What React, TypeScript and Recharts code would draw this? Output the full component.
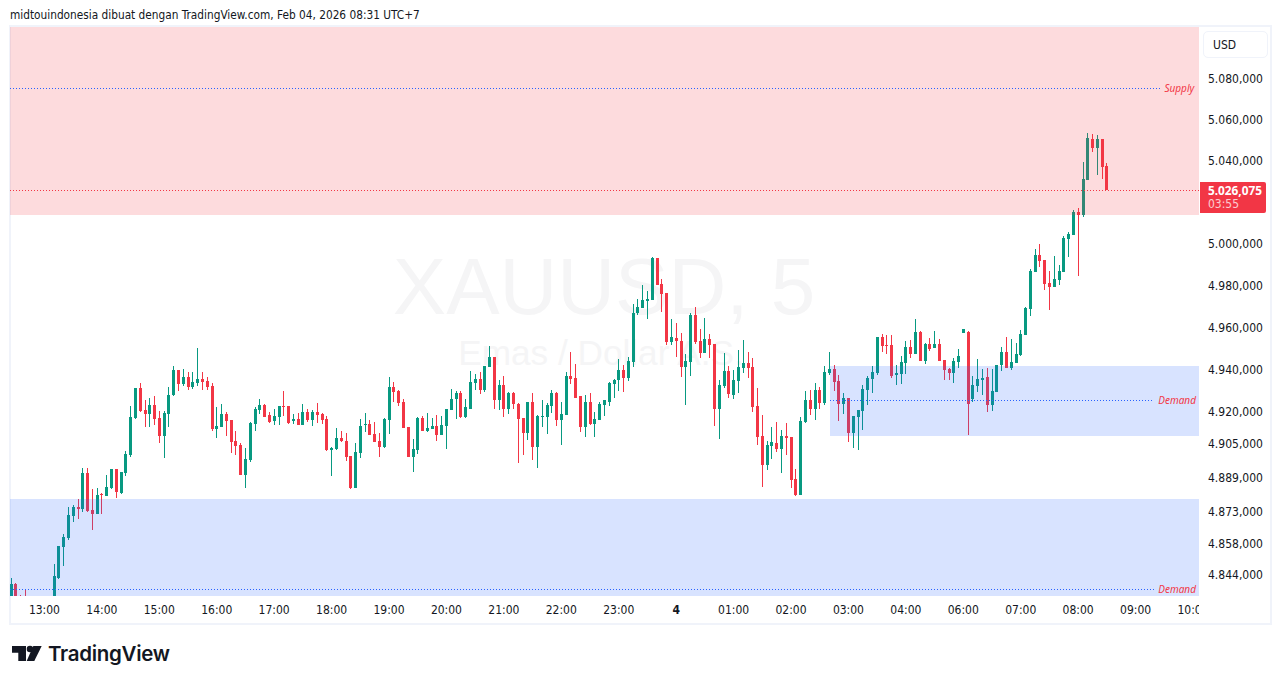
import { Bar, Cell, ComposedChart, ReferenceArea, ReferenceLine, XAxis, YAxis } from "recharts";

const opens = [
  4831, 4839.5, 4833, 4832, 4827, 4829, 4827, 4830, 4831, 4832,
  4842.2, 4856.6, 4860.8, 4871, 4875.2, 4874.3, 4891.1, 4873.8, 4872, 4881.3,
  4880.4, 4884.1, 4893, 4881.8, 4891.1, 4899.6, 4917, 4931.2, 4920.8, 4918.9,
  4923.2, 4917, 4908.6, 4918.9, 4927.9, 4939.8, 4933.1, 4936.4, 4931.7, 4933.6,
  4935.5, 4934.6, 4932.2, 4911.9, 4912.8, 4918.9, 4916.1, 4906.2, 4904.3, 4890.6,
  4897.2, 4914.2, 4920.8, 4923.2, 4918.4, 4915.6, 4917.5, 4922.7, 4922.7, 4915.6,
  4916.6, 4913.7, 4919.9, 4916.1, 4919.9, 4918.9, 4916.6, 4902, 4902.5, 4907.7,
  4906.2, 4899.1, 4884.1, 4900.6, 4913.7, 4914.2, 4909.5, 4906.2, 4903.4, 4916.1,
  4931.7, 4929.8, 4924.6, 4912.8, 4898.7, 4902, 4917, 4910.9, 4911.9, 4913.3,
  4909.1, 4913.3, 4920.8, 4926, 4928.9, 4917.5, 4921.7, 4933.6, 4935.5, 4930.3,
  4941.2, 4945.9, 4925.5, 4932.6, 4921.7, 4928.9, 4923.6, 4917, 4910, 4925,
  4903.4, 4917.5, 4917.5, 4922.7, 4928.9, 4916.1, 4918.4, 4936.9, 4936, 4927.4,
  4912.8, 4925, 4914.2, 4916.1, 4923.2, 4925, 4933.1, 4935, 4939.8, 4936,
  4943.5, 4966.9, 4969.3, 4972.6, 4973.1, 4993.3, 4980.8, 4976.4, 4953, 4955,
  4953.5, 4941.2, 4943.5, 4965.9, 4953.5, 4947.8, 4954.5, 4952.1, 4921.7, 4932.2,
  4939.3, 4927.9, 4934.6, 4940.7, 4943.1, 4941.2, 4922.7, 4908.6, 4894.9, 4903.9,
  4905.3, 4902.5, 4908.6, 4908.1, 4888.3, 4880.8, 4915.1, 4925.5, 4921.7, 4930.3,
  4924.1, 4938.3, 4940.2, 4934.6, 4923.6, 4926.9, 4910, 4917.5, 4920.3, 4930.3,
  4935.5, 4938.3, 4955.4, 4951.6, 4951.6, 4937.4, 4937.9, 4943.1, 4950.7, 4947.4,
  4957.8, 4944, 4952.1, 4950.2, 4952.1, 4944.5, 4940.2, 4938.3, 4943.5, 4957.4,
  4957.8, 4926, 4932.2, 4935, 4936.4, 4923.2, 4929.3, 4942.1, 4948.3, 4940.7,
  4943.1, 4946.9, 4956.4, 4968.8, 4986.5, 4994.7, 4992.3, 4981.3, 4979.3, 4982.7,
  4986.5, 5002.4, 5004.3, 5015.3, 5013.9, 5030.8, 5050.7, 5046.3, 5050.7, 5037.6,
];

const highs = [
  4842.2, 4839.9, 4834.4, 4836.7, 4830, 4831, 4832, 4832.5, 4833, 4848.7,
  4857, 4862.6, 4875.2, 4876.1, 4879, 4893.5, 4893.5, 4883.7, 4884.1, 4881.8,
  4890.2, 4893, 4893, 4891.6, 4901.5, 4922.7, 4931.2, 4933.6, 4925.5, 4926.9,
  4927.4, 4920.3, 4920.3, 4931.7, 4941.7, 4939.8, 4940.2, 4938.8, 4938.8, 4950.2,
  4938.8, 4936.4, 4933.6, 4922.2, 4923.6, 4919.9, 4916.1, 4910.9, 4905.3, 4902.9,
  4915.1, 4922.2, 4926, 4923.6, 4919.9, 4921.3, 4922.7, 4929.8, 4922.7, 4918.9,
  4919.4, 4923.6, 4921.3, 4920.8, 4924.1, 4919.4, 4918, 4903.4, 4912.3, 4910.9,
  4910, 4899.1, 4905.3, 4916.6, 4919.4, 4916.1, 4915.1, 4910, 4917, 4936.4,
  4934.1, 4930.3, 4926, 4912.8, 4907.2, 4917.5, 4918, 4919.4, 4917, 4918.4,
  4918, 4921.3, 4930.8, 4929.8, 4929.8, 4926.4, 4939.3, 4937.9, 4938.8, 4941.7,
  4951.2, 4945.9, 4935, 4936.9, 4929.3, 4929.3, 4924.1, 4917, 4925, 4928.9,
  4918.4, 4925.5, 4924.1, 4930.3, 4929.3, 4924.6, 4938.8, 4948.3, 4942.6, 4927.4,
  4927.9, 4928.9, 4919.9, 4924.6, 4925.5, 4934.1, 4935.5, 4945, 4942.1, 4945.9,
  4971.2, 4973.6, 4980.3, 4977.4, 4993.7, 4993.3, 4983.2, 4976.4, 4964, 4962.1,
  4957.4, 4947.4, 4966.9, 4969.7, 4959.3, 4964.5, 4956.9, 4952.1, 4935, 4947.8,
  4941.7, 4939.8, 4949.3, 4954, 4948.3, 4945.4, 4931.2, 4918.4, 4906.2, 4912.8,
  4915.1, 4911.4, 4914.7, 4908.1, 4893, 4917.5, 4929.8, 4930.3, 4933.6, 4931.7,
  4941.7, 4948.3, 4942.1, 4937.4, 4928.9, 4926.9, 4918, 4920.8, 4932.6, 4936.9,
  4941.7, 4955.4, 4956.9, 4956.4, 4956.4, 4942.1, 4946.4, 4953.5, 4954, 4964,
  4958.3, 4952.6, 4955, 4958.3, 4954.5, 4944.5, 4940.7, 4945.4, 4949.8, 4959.3,
  4958.3, 4936.9, 4945, 4940.2, 4940.7, 4940.2, 4942.1, 4950.7, 4955.4, 4954.5,
  4952.6, 4958.8, 4969.7, 4988, 4997.6, 5000, 4992.3, 4987, 4994.2, 4989.8,
  5003.8, 5005.7, 5016.3, 5017.3, 5039.5, 5053.6, 5053.1, 5052.6, 5050.7, 5039,
];

const lows = [
  4829.5, 4828, 4827, 4826, 4825, 4826, 4826, 4828, 4829, 4830,
  4841.8, 4847.8, 4859.8, 4868.2, 4869.6, 4872.9, 4872.9, 4864.5, 4872, 4872,
  4880.4, 4883.7, 4879.4, 4881.3, 4889.7, 4898.7, 4916.6, 4919.9, 4912.8, 4912.8,
  4913.7, 4905.3, 4898.2, 4912.8, 4927.4, 4929.8, 4932.2, 4930.3, 4930.8, 4932.2,
  4930.3, 4930.3, 4910.9, 4907.7, 4912.8, 4908.6, 4900.6, 4899.6, 4890.2, 4884.1,
  4896.3, 4910.9, 4918.9, 4917.5, 4914.7, 4913.7, 4913.7, 4918, 4914.2, 4914.2,
  4913.7, 4913.7, 4915.1, 4913.3, 4914.7, 4914.2, 4901.5, 4889.7, 4902, 4905.8,
  4896.8, 4883.7, 4884.1, 4898.2, 4910.5, 4909.1, 4905.8, 4898.7, 4902.9, 4909.5,
  4925, 4922.7, 4912.3, 4898.7, 4892, 4900.1, 4910.9, 4910.5, 4911.9, 4906.2,
  4909.1, 4902.5, 4920.8, 4916.6, 4917, 4917, 4921.7, 4930.3, 4928.4, 4929.3,
  4941.2, 4921.3, 4920.8, 4917.5, 4918.9, 4921.3, 4895.8, 4899.6, 4906.7, 4897.2,
  4893.5, 4912.8, 4909.5, 4919.4, 4913.3, 4904.3, 4918.4, 4933.1, 4926.9, 4910.5,
  4908.1, 4913.7, 4908.1, 4916.1, 4918, 4922.7, 4926.9, 4929.8, 4929.3, 4934.6,
  4941.2, 4965.9, 4969.3, 4964, 4973.1, 4980.3, 4967.4, 4951.6, 4951.6, 4945.9,
  4936.4, 4923.2, 4936.9, 4952.1, 4945.4, 4947.8, 4945.4, 4913.3, 4907.2, 4931.2,
  4926.9, 4926, 4928.9, 4938.3, 4936, 4919.9, 4904.3, 4884.6, 4892.5, 4897.7,
  4901.1, 4891.1, 4899.6, 4884.1, 4880.4, 4880.8, 4914.7, 4918.4, 4916.1, 4921.7,
  4923.2, 4937.4, 4929.8, 4915.6, 4918.9, 4905.8, 4902.9, 4902, 4911.4, 4923.2,
  4928.9, 4937.4, 4948.3, 4947.4, 4936, 4932.6, 4933.1, 4937.9, 4945.4, 4947.4,
  4944, 4942.6, 4948.8, 4950.2, 4944, 4935, 4935, 4933.6, 4940.7, 4957.4,
  4909.1, 4925, 4929.3, 4927.9, 4919.9, 4920.3, 4929.3, 4939.3, 4940.7, 4939.8,
  4943.1, 4946.4, 4956.4, 4965.5, 4986.5, 4988.9, 4977.9, 4968.3, 4979.3, 4980.3,
  4986.5, 4993.7, 5004.3, 4984.6, 5012.9, 5030.8, 5044.4, 5033.2, 5031.3, 5026.075,
];

const closes = [
  4839.5, 4830, 4829, 4828.5, 4829, 4827, 4830, 4831, 4832, 4843.1,
  4857, 4861.2, 4871.5, 4875.2, 4874.3, 4891.1, 4873.4, 4872, 4880.8, 4880.8,
  4884.6, 4893, 4882.2, 4891.6, 4900.1, 4917.5, 4931.2, 4920.3, 4918.9, 4923.2,
  4916.6, 4908.6, 4919.4, 4927.9, 4939.8, 4933.1, 4936.4, 4931.7, 4934.1, 4935.5,
  4934.1, 4931.7, 4911.9, 4913.3, 4918.9, 4915.6, 4905.8, 4903.9, 4890.6, 4897.7,
  4914.7, 4921.3, 4923.2, 4917.5, 4915.1, 4918, 4922.7, 4922.2, 4914.7, 4916.6,
  4913.7, 4919.9, 4916.1, 4919.9, 4918.4, 4916.1, 4902, 4902.9, 4907.7, 4906.2,
  4898.7, 4884.1, 4901.1, 4913.3, 4914.2, 4909.1, 4905.8, 4903.4, 4916.6, 4931.7,
  4929.3, 4924.1, 4912.3, 4898.7, 4902.5, 4917, 4910.9, 4912.3, 4913.3, 4909.1,
  4913.7, 4921.3, 4926.4, 4928.9, 4917.5, 4922.2, 4934.1, 4935.5, 4930.3, 4941.7,
  4945.9, 4925.5, 4932.6, 4921.7, 4928.9, 4923.6, 4916.6, 4910, 4924.6, 4903.4,
  4918, 4918, 4923.2, 4928.9, 4916.1, 4918.9, 4936.9, 4935.5, 4926.9, 4912.8,
  4925, 4914.2, 4916.6, 4923.6, 4925.5, 4933.6, 4935, 4939.8, 4936, 4944,
  4966.9, 4969.7, 4973.1, 4973.6, 4993.3, 4980.3, 4976, 4953, 4955.4, 4953.5,
  4941.2, 4944, 4965.9, 4953, 4947.8, 4954.5, 4951.6, 4921.3, 4932.6, 4939.3,
  4928.4, 4935, 4941.2, 4943.1, 4940.7, 4922.2, 4908.1, 4894.9, 4904.3, 4905.8,
  4902.5, 4908.6, 4907.7, 4887.8, 4880.8, 4915.6, 4925.5, 4921.7, 4930.3, 4924.1,
  4938.8, 4940.2, 4934.1, 4923.6, 4926.9, 4910, 4918, 4920.8, 4930.8, 4936,
  4938.8, 4955.4, 4951.2, 4951.2, 4936.9, 4938.3, 4943.5, 4950.7, 4947.4, 4957.8,
  4944, 4952.1, 4949.8, 4952.1, 4944, 4939.8, 4938.3, 4944, 4946.4, 4959.3,
  4923.6, 4932.6, 4935.5, 4936, 4923.2, 4929.8, 4942.1, 4948.3, 4940.7, 4943.5,
  4947.4, 4956.9, 4969.3, 4987, 4994.7, 4991.8, 4980.8, 4979.3, 4983.2, 4987,
  5002.9, 5004.8, 5015.3, 5013.9, 5031.3, 5051.2, 5046.3, 5050.7, 5037.1, 5026.075,
];

// x ticks sit on bar indexes, one hour = 12 bars (05:00 is the market break)
const timeTicks = [7, 19, 31, 43, 55, 67, 79, 91, 103, 115, 127, 139, 151, 163, 175, 187, 199, 211, 223, 235, 247];
const timeLabels = ["13:00", "14:00", "15:00", "16:00", "17:00", "18:00", "19:00", "20:00", "21:00", "22:00", "23:00", "4", "01:00", "02:00", "03:00", "04:00", "06:00", "07:00", "08:00", "09:00", "10:00"];
const priceTicks = [5080, 5060, 5040, 5000, 4980, 4960, 4940, 4920, 4905, 4889, 4873, 4858, 4844];

const lastPrice = 5025.8;
const supplyEdge = 5013.9;
const supplyLevel = 5075.3;
const lowerZoneTop = 4878.9;
const lowerLevel = 4836.9;
const upperZone = [4908.6, 4941.7];
const upperLevel = 4925.3;
const upperZoneStart = 171.2;
const levelEnd = 238.9;
const supplyLevelEnd = 240.2;

const priceDomain = [4833.9, 5105.3];
const barDomain = [-0.196, 248.25];

const UP = "#089981";
const DOWN = "#f23645";
const ZONE_BLUE = "#2962ff";
const FONT = "'DejaVu Sans Condensed', 'Noto Sans', sans-serif";

const candles = opens.map((open, i) => ({
  i,
  wick: [lows[i], highs[i]],
  body: [Math.min(open, closes[i]), Math.max(open, closes[i])],
  up: closes[i] >= open,
}));

const formatPrice = (v: number) => `${v.toString().replace(/(\d)(\d{3})$/, "$1.$2")},000`;

function TimeTick({ x, y, payload }: any) {
  const label = timeLabels[timeTicks.indexOf(payload.value)];
  return (
    <text
      x={x}
      y={y}
      dy={4}
      textAnchor="middle"
      clipPath="url(#timeClip)"
      fill="#131722"
      fontSize={12}
      fontWeight={label === "4" ? 700 : 400}
      fontFamily={FONT}
    >
      {label}
    </text>
  );
}

const levelLabel = (value: string) => ({
  value,
  position: "right" as const,
  offset: 4,
  fill: DOWN,
  fontSize: 10,
  fontStyle: "italic",
  fontFamily: "'Noto Sans', sans-serif",
});

export default function App() {
  return (
    <div style={{ position: "absolute", left: 0, top: 0, width: 1281, height: 684, background: "#fff", overflow: "hidden" }}>
      <div style={{ position: "absolute", left: 10, top: 6, fontFamily: FONT, fontSize: 11.76, lineHeight: "18px", color: "#131722", whiteSpace: "nowrap" }}>
        midtouindonesia dibuat dengan TradingView.com, Feb 04, 2026 08:31 UTC+7
      </div>

      <div style={{ position: "absolute", left: 9, top: 25, width: 1259, height: 596, border: "2px solid #f0f3fa" }} />

      {/* watermark */}
      <div style={{ position: "absolute", left: 304, top: 232, width: 600, textAlign: "center", fontFamily: "'Liberation Sans', sans-serif", fontSize: 80, lineHeight: "110px", color: "#f5f5f6", whiteSpace: "nowrap" }}>
        XAUUSD, 5
      </div>
      <div style={{ position: "absolute", left: 301, top: 331, width: 600, textAlign: "center", fontFamily: "'Liberation Sans', sans-serif", fontSize: 35.2, lineHeight: "44px", color: "#f5f5f6", whiteSpace: "nowrap" }}>
        Emas / Dollar A.S.
      </div>

      <div style={{ position: "absolute", left: 0, top: 0, shapeRendering: "crispEdges" }}>
        <ComposedChart width={1281} height={684} data={candles} margin={{ top: 27, right: 11, bottom: 60, left: 10 }}>
          <defs>
            <clipPath id="timeClip">
              <rect x={10} y={596} width={1189} height={28} />
            </clipPath>
          </defs>
          <XAxis
            dataKey="i"
            type="number"
            domain={barDomain}
            ticks={timeTicks}
            interval={0}
            height={28}
            allowDataOverflow
            axisLine={false}
            tickLine={false}
            tick={<TimeTick />}
            tickMargin={8}
          />
          <XAxis xAxisId="wicks" dataKey="i" type="number" domain={barDomain} hide allowDataOverflow />
          <YAxis
            orientation="right"
            scale="log"
            domain={priceDomain}
            ticks={priceTicks}
            interval={0}
            width={71}
            allowDataOverflow
            axisLine={false}
            tickLine={false}
            tickMargin={3}
            tickFormatter={formatPrice}
            tick={{ fill: "#131722", fontSize: 12, fontFamily: FONT }}
          />

          <Bar xAxisId="wicks" dataKey="wick" barSize={1} minPointSize={1} isAnimationActive={false}>
            {candles.map((c) => (
              <Cell key={c.i} fill={c.up ? UP : DOWN} />
            ))}
          </Bar>
          <Bar dataKey="body" barSize={3} minPointSize={1} isAnimationActive={false}>
            {candles.map((c) => (
              <Cell key={c.i} fill={c.up ? UP : DOWN} />
            ))}
          </Bar>

          {/* zones go over the candles, as on the original */}
          <ReferenceArea zIndex={500} y1={supplyEdge} y2={priceDomain[1]} fill={DOWN} fillOpacity={0.18} stroke="none" ifOverflow="hidden" />
          <ReferenceArea zIndex={500} y1={priceDomain[0]} y2={lowerZoneTop} fill={ZONE_BLUE} fillOpacity={0.18} stroke="none" ifOverflow="hidden" />
          <ReferenceArea zIndex={500} x1={upperZoneStart} y1={upperZone[0]} y2={upperZone[1]} fill={ZONE_BLUE} fillOpacity={0.18} stroke="none" ifOverflow="hidden" />

          <ReferenceLine
            zIndex={600}
            segment={[{ x: barDomain[0], y: supplyLevel }, { x: supplyLevelEnd, y: supplyLevel }]}
            stroke={ZONE_BLUE}
            strokeDasharray="1 2"
            label={levelLabel("Supply")}
          />
          <ReferenceLine
            zIndex={600}
            segment={[{ x: upperZoneStart, y: upperLevel }, { x: levelEnd, y: upperLevel }]}
            stroke={ZONE_BLUE}
            strokeDasharray="1 2"
            label={levelLabel("Demand")}
          />
          <ReferenceLine
            zIndex={600}
            segment={[{ x: barDomain[0], y: lowerLevel }, { x: levelEnd, y: lowerLevel }]}
            stroke={ZONE_BLUE}
            strokeDasharray="1 2"
            label={levelLabel("Demand")}
          />
          <ReferenceLine zIndex={600} y={lastPrice} stroke={DOWN} strokeDasharray="1 2" />
        </ComposedChart>
      </div>

      {/* currency box and last price tag */}
      <div style={{ position: "absolute", left: 1203, top: 31, width: 63, height: 25, border: "1px solid #f0f3fa", borderRadius: 5, fontFamily: FONT, fontSize: 12, lineHeight: "27px", color: "#131722", textIndent: 9 }}>
        USD
      </div>
      <div style={{ position: "absolute", left: 1200, top: 182, width: 66, height: 31, background: DOWN, borderRadius: "0 2px 2px 0", fontFamily: FONT, fontSize: 12, lineHeight: "14px", color: "#fff", textIndent: 8, paddingTop: 1, boxSizing: "border-box" }}>
        <div style={{ fontWeight: 700, fontFamily: "'Noto Sans', sans-serif", fontSize: 11.8 }}>5.026,075</div>
        <div style={{ opacity: 0.75 }}>03:55</div>
      </div>

      {/* footer logo */}
      <svg style={{ position: "absolute", left: 10, top: 644 }} width={34} height={19} viewBox="0 0 34 19">
        <path d="M2 2H16V17H8.3V8.7H2Z" fill="#131722" />
        <circle cx={20} cy={5} r={3.3} fill="#131722" />
        <path d="M23.3 2H31.7L24.3 17H16.7Z" fill="#131722" />
      </svg>
      <div style={{ position: "absolute", left: 48, top: 640, fontFamily: "'Inter', sans-serif", fontWeight: 600, fontSize: 20.5, lineHeight: "28px", color: "#131722", letterSpacing: -0.3 }}>
        TradingView
      </div>
    </div>
  );
}
